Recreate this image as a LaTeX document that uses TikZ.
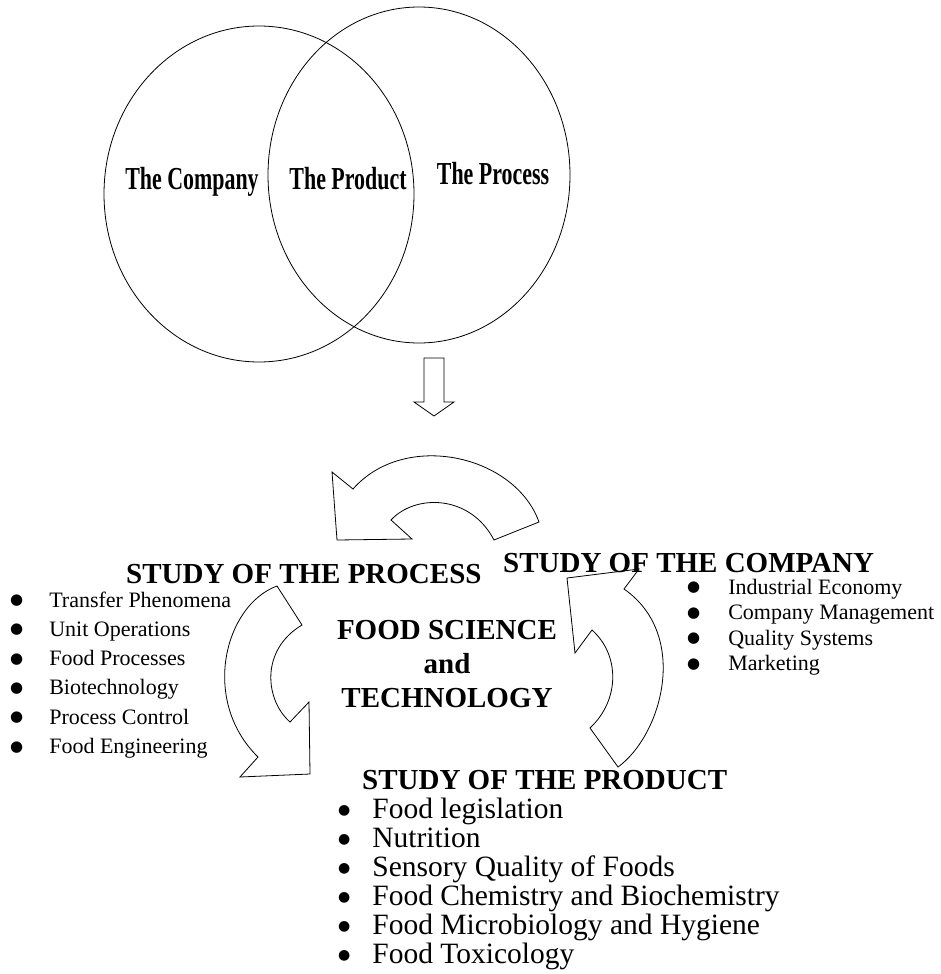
\documentclass[tikz,border=0pt]{standalone}
\usepackage{fontspec}
\setmainfont{Liberation Serif}
\newfontfamily\vennfont[FakeStretch=0.685]{Liberation Serif}
\newfontfamily\dotfont{DejaVu Sans}
\usetikzlibrary{positioning}

\newcommand{\lbul}{\raisebox{2.5pt}{\dotfont\fontsize{15}{15}\selectfont ●}}
\newcommand{\pbul}{\raisebox{4pt}{\dotfont\fontsize{14}{14}\selectfont ●}}

\begin{document}
\begin{tikzpicture}[x=1pt,y=-1pt]
	\tikzset{
		outline/.style={draw=black, line width=0.8pt, line join=miter},
		venn label/.style={font=\vennfont\fontsize{32}{32}\selectfont\bfseries, inner sep=0pt, anchor=base},
		heading/.style={font=\fontsize{29}{29}\selectfont\bfseries, inner sep=0pt, anchor=base west},
		side list/.style={inner sep=0pt, anchor=base west},
	}
	\useasboundingbox (0,0) rectangle (940,974);

	\draw[outline] (259,194) ellipse [x radius=155pt, y radius=168pt];
	\draw[outline] (419,175) ellipse [x radius=151pt, y radius=168pt];
	\node[venn label] (company) at (192,189) {The Company};
	\node[venn label] (product) at (348,189) {The Product};
	\node[venn label] (process) at (493,184) {The Process};

	\draw[outline] (424,358) -- (444,358) -- (444,402) -- (454,402) -- (434,416) -- (414,402) -- (424,402) -- cycle;

	\draw[outline] (539,522) .. controls (515,455) and (405,430) .. (353,489) -- (332,472) -- (337,540)
	   -- (412,539) -- (391,520) .. controls (415,494) and (470,494) .. (494,540) -- cycle;
	\draw[outline] (277,586) .. controls (225,605) and (200,700) .. (258,757) -- (240,777) -- (310,774)
	   -- (309,702) -- (290,722) .. controls (265,700) and (260,650) .. (302,625) -- cycle;
	\draw[outline] (618,767) .. controls (662,735) and (690,635) .. (624,589) -- (639,569) -- (567,578)
	   -- (575,653) -- (592,630) .. controls (620,655) and (620,700) .. (590,728) -- cycle;

	\node[heading] (procHead) at (126,583) {STUDY OF THE PROCESS};
	\node[heading] (compHead) at (503,572) {STUDY OF THE COMPANY};
	\node[heading] (prodHead) at (362,789) {STUDY OF THE PRODUCT};
	\node[font=\fontsize{29}{34}\selectfont\bfseries, inner sep=0pt, align=center, anchor=base] (fst) at (447,707)
	   {FOOD SCIENCE\\and\\TECHNOLOGY};

	\node[side list, font=\fontsize{22}{29.3}\selectfont] (procList) at (10,607) {\begin{tabular}[t]{@{}c@{\hspace{26pt}}l@{}}
	   \lbul & Transfer Phenomena\\
	   \lbul & Unit Operations\\
	   \lbul & Food Processes\\
	   \lbul & Biotechnology\\
	   \lbul & Process Control\\
	   \lbul & Food Engineering
	\end{tabular}};
	\node[side list, font=\fontsize{22}{25.5}\selectfont] (compList) at (687,594) {\begin{tabular}[t]{@{}c@{\hspace{28pt}}l@{}}
	   \lbul & Industrial Economy\\
	   \lbul & Company Management\\
	   \lbul & Quality Systems\\
	   \lbul & Marketing
	\end{tabular}};
	\node[side list, font=\fontsize{29.5}{29}\selectfont] (prodList) at (338,818) {\begin{tabular}[t]{@{}c@{\hspace{22pt}}l@{}}
	   \pbul & Food legislation\\
	   \pbul & Nutrition\\
	   \pbul & Sensory Quality of Foods\\
	   \pbul & Food Chemistry and Biochemistry\\
	   \pbul & Food Microbiology and Hygiene\\
	   \pbul & Food Toxicology
	\end{tabular}};
\end{tikzpicture}
\end{document}
